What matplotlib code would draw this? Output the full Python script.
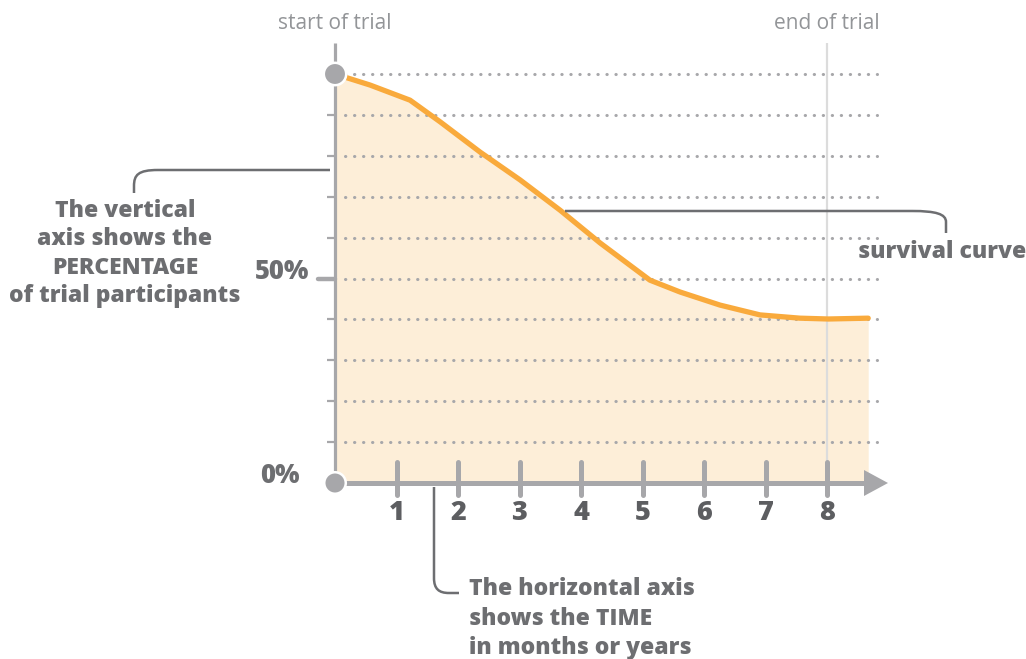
import matplotlib.pyplot as plt
from matplotlib.path import Path
from matplotlib.patches import PathPatch, Polygon

plt.rcParams['font.family'] = ['Open Sans', 'DejaVu Sans']

# survival curve (time units, percent)
time = [0, 0.57, 1.22, 1.71, 2.36, 3.01, 3.66, 4.31, 5.12, 5.61, 6.26, 6.91, 7.56, 8.02, 8.67]
survival = [100, 97.3, 93.6, 88.3, 80.9, 74.1, 66.7, 58.7, 49.6, 46.7, 43.5, 41.1, 40.3, 40.1, 40.3]
time_ticks = [1, 2, 3, 4, 5, 6, 7, 8]
tick_labels = ['1', '2', '3', '4', '5', '6', '7', '8']
grid_levels = [10, 20, 30, 40, 50, 60, 70, 80, 90, 100]
trial_end = 8

GRAY = '#a7a7aa'
TXT = '#6d6e71'
ORANGE = '#f9aa3c'
FILL = '#fdeed8'
WT = 'heavy'

# pixel layout helpers (figure is 1026x659 px)
W, H = 1026, 659
X0, Y0 = 335, 483
PX_T = 61.5
PX_P = 4.09


def px(x):
    return (x - X0) / PX_T


def py(y):
    return (Y0 - y) / PX_P


fig = plt.figure(figsize=(10.26, 6.59), dpi=100)
ax = fig.add_axes([0, 0, 1, 1])
ax.set_xlim(px(0), px(W))
ax.set_ylim(py(H), py(0))
ax.axis('off')

# fill under curve
ax.fill_between(time, survival, 0, color=FILL, lw=0, zorder=1)

# dotted grid
ax.hlines(grid_levels, px(345), px(877), colors=GRAY, lw=2.2,
          linestyles=[(0, (0.1, 2.85))], capstyle='round', zorder=2)

# end of trial line
ax.vlines(trial_end, 0, py(43), colors='#dcdcdc', lw=1.6, zorder=3)

# y axis and its ticks
ax.vlines(0, 0, py(43), colors=GRAY, lw=2.3, zorder=4)
small = [g for g in grid_levels if g != 50]
ax.hlines(small, px(327), 0, colors=GRAY, lw=1.6, zorder=4)
ax.hlines(50, px(318), 0, colors=GRAY, lw=3.2, capstyle='round', zorder=4)

# x axis, arrow and ticks
ax.hlines(0, 0, px(866), colors=GRAY, lw=3.6, zorder=5)
ax.add_patch(Polygon([(px(864), py(470)), (px(888), 0), (px(864), py(496))],
                     closed=True, color=GRAY, lw=0, zorder=5))
ax.vlines(time_ticks, py(495), py(462), colors=GRAY, lw=3.6,
          capstyle='round', zorder=5)
for t, lab in zip(time_ticks, tick_labels):
    ax.text(t, py(520), lab, ha='center', va='baseline', fontsize=19.5,
            fontweight=WT, color='#5d5e61', zorder=6)

# survival curve
ax.plot(time, survival, color=ORANGE, lw=3.8, solid_capstyle='round',
        solid_joinstyle='round', zorder=6)

# end points
ax.scatter([0, 0], [100, 0], s=[260, 240], color=GRAY, edgecolor='white',
           lw=1.8, zorder=7, clip_on=False)

# percentage labels
ax.text(px(309), py(279), '50%', ha='right', va='baseline', fontsize=18.5,
        fontweight=WT, color=TXT)
ax.text(px(300), py(483), '0%', ha='right', va='baseline', fontsize=18.5,
        fontweight=WT, color=TXT)

# trial labels
ax.text(0, py(29), 'start of trial', ha='center', va='baseline', fontsize=15,
        color='#939598')
ax.text(trial_end, py(29), 'end of trial', ha='center', va='baseline',
        fontsize=15, color='#939598')


def leader(points, codes):
    path = Path([(px(a), py(b)) for a, b in points], codes)
    ax.add_patch(PathPatch(path, fc='none', ec=TXT, lw=1.8, zorder=8,
                           capstyle='butt'))


C4 = Path.CURVE4
# vertical axis note
leader([(330, 170), (158, 170), (138, 170), (134, 175), (134, 186), (134, 193)],
       [Path.MOVETO, Path.LINETO, C4, C4, C4, Path.LINETO])
for line, base in zip(['The vertical', 'axis shows the', 'PERCENTAGE',
                       'of trial participants'], [217, 245, 274, 302]):
    ax.text(px(125), py(base), line, ha='center', va='baseline', fontsize=16.5,
            fontweight=WT, color=TXT)

# survival curve note
leader([(565, 211), (912, 211), (936, 211), (946, 214), (946, 222), (946, 233)],
       [Path.MOVETO, Path.LINETO, C4, C4, C4, Path.LINETO])
ax.text(px(942), py(258), 'survival curve', ha='center', va='baseline',
        fontsize=16.5, fontweight=WT, color=TXT)

# horizontal axis note
leader([(434, 487), (434, 578), (434, 589), (439, 593), (449, 593), (459, 593)],
       [Path.MOVETO, Path.LINETO, C4, C4, C4, Path.LINETO])
for line, base in zip(['The horizontal axis', 'shows the TIME',
                       'in months or years'], [595, 625, 654]):
    ax.text(px(469), py(base), line, ha='left', va='baseline', fontsize=16.5,
            fontweight=WT, color=TXT)

fig.savefig('out.png', dpi=100, facecolor='white')
